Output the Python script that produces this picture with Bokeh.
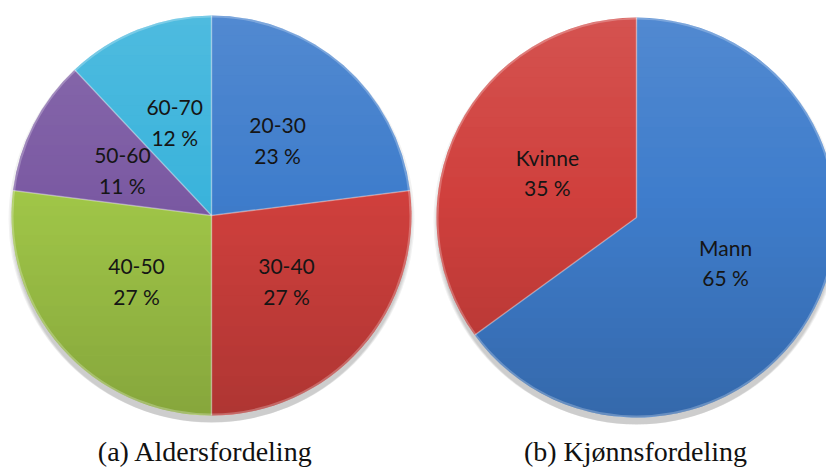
import numpy as np
from bokeh.plotting import figure
from bokeh.models import Range1d, ColumnDataSource
from bokeh.core.properties import value
from bokeh.embed import file_html
from bokeh.resources import INLINE

# ---- data ----
age_groups = ["20-30", "30-40", "40-50", "50-60", "60-70"]
age_pct = [23, 27, 27, 11, 12]
age_colors = ["#3f7dcc", "#d0403d", "#a0c648", "#7b5aa3", "#3bb4dc"]

gender = ["Mann", "Kvinne"]
gender_pct = [65, 35]
gender_colors = ["#3f7dcc", "#d0403d"]

captions = ["(a) Aldersfordeling", "(b) Kjønnsfordeling"]

W, H = 826, 467
p = figure(width=W, height=H, output_backend="svg", toolbar_location=None,
           x_range=Range1d(0, W), y_range=Range1d(0, H), min_border=0)
p.axis.visible = False
p.grid.visible = False
p.outline_line_color = None
p.background_fill_color = "white"
p.border_fill_color = "white"

R = 200
pies = [((211, H - 215), age_groups, age_pct, age_colors),
        ((636, H - 217), gender, gender_pct, gender_colors)]


def draw_pie(center, labels, vals, colors):
    cx, cy = center
    # soft shadow
    for i, a in enumerate([0.05, 0.05, 0.05, 0.05]):
        p.ellipse(x=[cx], y=[cy - 4 - i * 1.5], width=2 * R + 6 - i * 3, height=2 * R + 6 - i * 3,
                  fill_color="black", fill_alpha=a, line_color=None)
    v = np.array(vals, dtype=float)
    frac = v / v.sum()
    cum = np.concatenate([[0], np.cumsum(frac)])
    start = np.pi / 2 - cum[1:] * 2 * np.pi
    end = np.pi / 2 - cum[:-1] * 2 * np.pi
    src = ColumnDataSource(dict(x=[cx] * len(vals), y=[cy] * len(vals), s=start, e=end, c=colors))
    p.wedge(x="x", y="y", radius=R, start_angle="s", end_angle="e", fill_color="c",
            line_color=None, source=src)
    # vertical gradient overlay: lighter at top, darker at bottom
    nb = 40
    edges = np.linspace(cy + R, cy - R, nb + 1)
    xs, ys, cols, alphas = [], [], [], []
    for k in range(nb):
        y1, y2 = edges[k], edges[k + 1]
        yy = np.linspace(y1, y2, 6)
        half = np.sqrt(np.clip(R ** 2 - (yy - cy) ** 2, 0, None))
        px = list(cx + half) + list(cx - half[::-1])
        py = list(yy) + list(yy[::-1])
        xs.append(px)
        ys.append(py)
        t = (k + 0.5) / nb
        if t < 0.45:
            cols.append("white")
            alphas.append(0.10 * (0.45 - t) / 0.45)
        else:
            cols.append("black")
            alphas.append(0.16 * (t - 0.45) / 0.55)
    p.patches(xs=xs, ys=ys, fill_color=cols, fill_alpha=alphas, line_color=None)
    # slice edges (bevel highlight)
    for a in start:
        p.segment(x0=[cx], y0=[cy], x1=[cx + R * np.cos(a)], y1=[cy + R * np.sin(a)],
                  line_color="white", line_alpha=0.35, line_width=1.5)
    p.circle(x=[cx], y=[cy], radius=R - 1, fill_color=None, line_color="white",
             line_alpha=0.25, line_width=2)
    # labels
    mid = (start + end) / 2
    lx = cx + 0.5 * R * np.cos(mid)
    ly = cy + 0.5 * R * np.sin(mid)
    p.text(x=lx, y=ly + 15, text=labels, text_font=value("Lato"), text_font_size="21px",
           text_color="#151515", text_align="center", text_baseline="middle")
    p.text(x=lx, y=ly - 15, text=[f"{int(round(f * 100))} %" for f in frac],
           text_font=value("Lato"), text_font_size="21px",
           text_color="#151515", text_align="center", text_baseline="middle")


for c, l, v, col in pies:
    draw_pie(c, l, v, col)

p.text(x=[205, 635], y=[H - 451] * 2, text=captions, text_font=value("Liberation Serif"),
       text_font_size="28px", text_color="#111111", text_align="center", text_baseline="middle")

open("out.html", "w").write(file_html(p, INLINE))
